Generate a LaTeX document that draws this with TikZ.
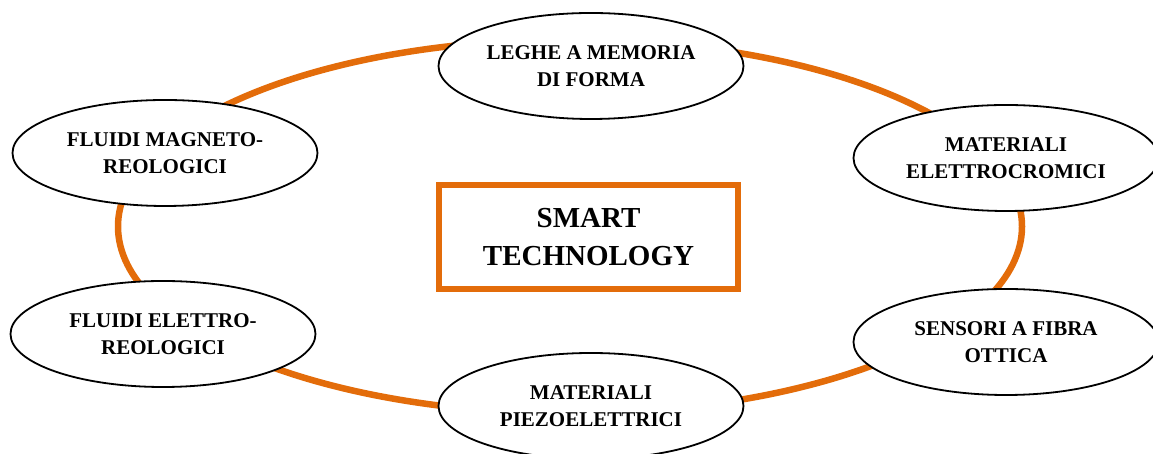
\documentclass[tikz,border=0pt]{standalone}
\usepackage{fontspec}
\setmainfont{Liberation Serif}
\usetikzlibrary{shapes.geometric,positioning}
\definecolor{ringorange}{RGB}{227,108,10}

\begin{document}
\begin{tikzpicture}[
    x=1pt, y=1pt,
    matbox/.style={ellipse, draw=black, line width=1.8pt, fill=white, minimum width=305pt, minimum height=106pt, inner sep=0pt, align=center, font=\fontsize{21}{27}\selectfont\bfseries},
    centrebox/.style={rectangle, draw=ringorange, line width=6pt, fill=white, minimum width=299pt, minimum height=104pt, align=center, font=\fontsize{29}{38}\selectfont\bfseries},
    ring/.style={draw=ringorange, line width=6.5pt}
]
\useasboundingbox (0,0) rectangle (1153,454);

% === Orange ring behind the materials ===
\draw[ring] (570,227.5) ellipse [x radius=452, y radius=187];

% === Centre ===
\node[centrebox] (smart) at (588.5,217) {SMART\\TECHNOLOGY};

% === Materials round the ring ===
\node[matbox] (leghe) at (591,388) {LEGHE A MEMORIA\\DI FORMA};
\node[matbox] (elettrocromici) at (1006,296) {MATERIALI\\ELETTROCROMICI};
\node[matbox] (fibra) at (1006,112) {SENSORI A FIBRA\\OTTICA};
\node[matbox] (piezo) at (591,48) {MATERIALI\\PIEZOELETTRICI};
\node[matbox] (elettroreo) at (163,120) {FLUIDI ELETTRO-\\REOLOGICI};
\node[matbox] (magnetoreo) at (165,301) {FLUIDI MAGNETO-\\REOLOGICI};

\end{tikzpicture}
\end{document}
